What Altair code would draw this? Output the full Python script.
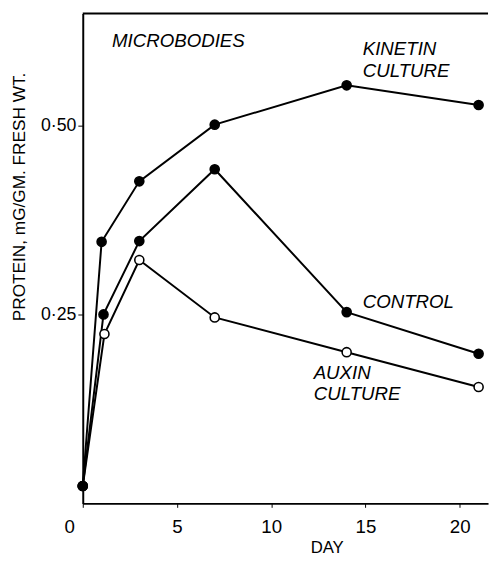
import altair as alt
import pandas as pd

# ---- data ----
kinetin_days = [0, 1.0, 3, 7, 14, 21]
kinetin_vals = [0.023, 0.346, 0.426, 0.501, 0.553, 0.527]
control_days = [0, 1.1, 3, 7, 14, 21]
control_vals = [0.023, 0.250, 0.347, 0.442, 0.253, 0.198]
auxin_days = [0, 1.15, 3, 7, 14, 21]
auxin_vals = [0.023, 0.224, 0.322, 0.246, 0.200, 0.154]

x_ticks = [0, 5, 10, 15, 20]
y_ticks = [0.25, 0.50]

label_texts = ["MICROBODIES", "KINETIN\nCULTURE", "CONTROL", "AUXIN\nCULTURE"]
label_days = [1.55, 14.85, 14.85, 12.25]
label_vals = [0.612, 0.601, 0.266, 0.173]

rows = []
for name, ds, vs, filled in [("Auxin", auxin_days, auxin_vals, False),
                             ("Control", control_days, control_vals, True),
                             ("Kinetin", kinetin_days, kinetin_vals, True)]:
    for d, v in zip(ds, vs):
        rows.append({"series": name, "day": d, "protein": v, "filled": filled})
df = pd.DataFrame(rows)
labels_df = pd.DataFrame({"text": label_texts, "day": label_days, "protein": label_vals})

FONT = "Liberation Sans"

x_scale = alt.Scale(domain=[0, 21.5], nice=False, zero=False)
y_scale = alt.Scale(domain=[0, 0.648], nice=False)

x_axis = alt.Axis(
    values=x_ticks, grid=False, title="DAY",
    titleX=248, titleY=37, titleFontWeight="normal", titleFontSize=17, titleFont=FONT,
    labelFontSize=19, labelFont=FONT, labelPadding=11, tickSize=4,
    labelOffset={"condition": {"test": "datum.value == 0", "value": -19}, "value": 0},
    domainColor="black", tickColor="black", labelColor="black", titleColor="black",
    domainWidth=2,
)
y_axis = alt.Axis(
    values=y_ticks, grid=False, title="PROTEIN, mG/GM. FRESH WT.",
    titleX=-64, titleY=186, titleBaseline="middle", titleAlign="center",
    titleFontWeight="normal", titleFontSize=17.5, titleFont=FONT,
    labelExpr="replace(format(datum.value, '.2f'), '.', '·')",
    labelFontSize=18, labelFont=FONT, labelPadding=2, tickSize=5,
    domainColor="black", tickColor="black", labelColor="black", titleColor="black",
    domainWidth=2,
)

base = alt.Chart(df)

lines = base.mark_line(color="black", strokeWidth=2).encode(
    x=alt.X("day:Q", scale=x_scale, axis=x_axis),
    y=alt.Y("protein:Q", scale=y_scale, axis=y_axis),
    detail="series:N",
)

points = base.mark_point(size=85, strokeWidth=1.6, opacity=1).encode(
    x="day:Q",
    y="protein:Q",
    fill=alt.condition("datum.filled", alt.value("black"), alt.value("white")),
    stroke=alt.value("black"),
    shape=alt.value("circle"),
)

texts = alt.Chart(labels_df).mark_text(
    align="left", baseline="middle", fontStyle="italic", font=FONT,
    fontSize=19, lineBreak="\n", lineHeight=22, color="black",
).encode(x="day:Q", y="protein:Q", text="text:N")

top_rule = alt.Chart(pd.DataFrame({"a": [0]})).mark_rule(color="black", strokeWidth=2).encode(
    x=alt.value(0), x2=alt.value(412), y=alt.value(0)
)

chart = alt.layer(lines, points, texts, top_rule).properties(
    width=412, height=498,
    autosize=alt.AutoSizeParams(type="none"),
    padding={"left": 76, "top": 1, "right": 2, "bottom": 56},
).configure_view(stroke=None)

chart.save("out.html", embed_options={"renderer": "svg", "actions": False})
